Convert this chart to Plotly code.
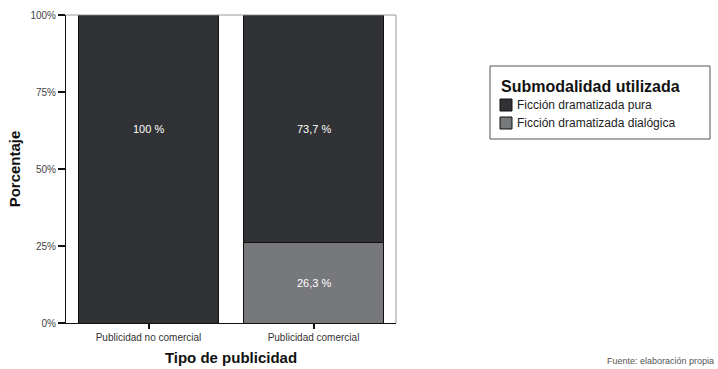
import plotly.graph_objects as go

categories = ["Publicidad no comercial", "Publicidad comercial"]
pura = [100.0, 73.7]
dialogica = [0.0, 26.3]
label_pura = ["100 %", "73,7 %"]
label_dialogica = ["", "26,3 %"]
y_ticks = [0, 25, 50, 75, 100]
y_ticktext = ["0%", "25%", "50%", "75%", "100%"]
legend_title = "Submodalidad utilizada"
series_names = ["Ficción dramatizada pura", "Ficción dramatizada dialógica"]

C_PURA = "#313235"
C_DIAL = "#77787c"
FONT = "Arial, Liberation Sans"

W, H = 718, 369
ML, MR, MT, MB = 66, 322, 15, 46
PW, PH = W - ML - MR, H - MT - MB


def px(x):
    return (x - ML) / PW


def py(y):
    return (H - MB - y) / PH


fig = go.Figure()
fig.add_trace(go.Bar(
    x=categories, y=dialogica, name=series_names[1],
    marker=dict(color=C_DIAL, line=dict(color="#111111", width=1)),
    width=0.85, hoverinfo="skip", showlegend=False))
fig.add_trace(go.Bar(
    x=categories, y=pura, name=series_names[0],
    marker=dict(color=C_PURA, line=dict(color="#111111", width=1)),
    width=0.85, hoverinfo="skip", showlegend=False))

mid_pura = dialogica[1] + pura[1] / 2
for i, cat in enumerate(categories):
    fig.add_annotation(x=cat, y=mid_pura, text=label_pura[i], showarrow=False,
                       font=dict(family=FONT, size=11, color="white"))
    if label_dialogica[i]:
        fig.add_annotation(x=cat, y=dialogica[i] / 2, text=label_dialogica[i], showarrow=False,
                           font=dict(family=FONT, size=11, color="white"))

# Frame top / right (grey)
fig.add_shape(type="line", xref="paper", yref="paper", x0=0, x1=1, y0=1, y1=1,
              line=dict(color="#9a9a9a", width=1))
fig.add_shape(type="line", xref="paper", yref="paper", x0=1, x1=1, y0=0, y1=1,
              line=dict(color="#9a9a9a", width=1))

# Legend box (drawn manually to match the original layout)
fig.add_shape(type="rect", xref="paper", yref="paper",
              x0=px(490), x1=px(710), y0=py(139), y1=py(66),
              line=dict(color="#555555", width=1), fillcolor="white", layer="below")
fig.add_annotation(xref="paper", yref="paper", x=px(499), y=py(87), xanchor="left", yanchor="middle",
                   text="<b>" + legend_title + "</b>", showarrow=False,
                   font=dict(family=FONT, size=16, color="#111"))
sw_colors = [C_PURA, C_DIAL]
item_y = [105, 123]
for name, col, yy in zip(series_names, sw_colors, item_y):
    fig.add_shape(type="rect", xref="paper", yref="paper",
                  x0=px(500), x1=px(512), y0=py(yy + 6), y1=py(yy - 6),
                  line=dict(color="#111111", width=1), fillcolor=col)
    fig.add_annotation(xref="paper", yref="paper", x=px(515), y=py(yy), xanchor="left", yanchor="middle",
                       text=name, showarrow=False,
                       font=dict(family=FONT, size=12, color="#222"))

fig.add_annotation(xref="paper", yref="paper", x=px(716), y=py(368), xanchor="right", yanchor="bottom",
                   text="Fuente: elaboración propia", showarrow=False,
                   font=dict(family=FONT, size=9, color="#555"))

fig.update_layout(
    width=W, height=H,
    margin=dict(l=ML, r=MR, t=MT, b=MB),
    paper_bgcolor="white", plot_bgcolor="white",
    barmode="stack", bargap=0.15,
    showlegend=False,
    xaxis=dict(
        range=[-0.5, 1.5], automargin=False,
        showline=True, linecolor="#111111", linewidth=1,
        ticks="outside", ticklen=5, tickwidth=2, tickcolor="#111111",
        tickfont=dict(family=FONT, size=10, color="#333"),
        title=dict(text="<b>Tipo de publicidad</b>", standoff=10,
                   font=dict(family=FONT, size=15, color="#111")),
        showgrid=False, zeroline=False, fixedrange=True,
    ),
    yaxis=dict(
        range=[0, 100], automargin=False,
        tickvals=y_ticks, ticktext=y_ticktext,
        showline=True, linecolor="#111111", linewidth=1,
        ticks="outside", ticklen=7, tickwidth=2, tickcolor="#111111",
        tickfont=dict(family=FONT, size=10, color="#444"),
        title=dict(text="<b>Porcentaje</b>", standoff=6,
                   font=dict(family=FONT, size=15, color="#111")),
        showgrid=False, zeroline=False, fixedrange=True,
    ),
)

fig.write_html("out.html", config={"displayModeBar": False})
